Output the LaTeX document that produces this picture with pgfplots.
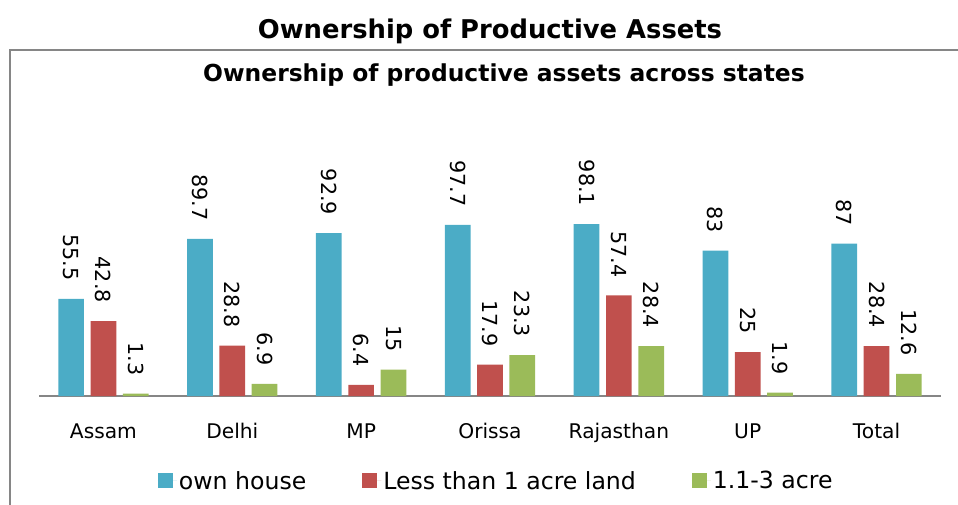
\documentclass[border=0pt]{standalone}
\usepackage{fontspec}
\setmainfont{DejaVu Sans}
\usepackage{pgfplots}
\pgfplotsset{compat=1.18}
\definecolor{cblue}{HTML}{4BACC6}
\definecolor{cred}{HTML}{C0504D}
\definecolor{cgreen}{HTML}{9BBB59}
\definecolor{axgray}{HTML}{868686}
\begin{document}
\begin{tikzpicture}[x=1pt,y=1pt]
\path[use as bounding box] (0,0) rectangle (958,504);
\draw[axgray, line width=2pt] (10,-20) -- (10,454) -- (980,454);
\node[anchor=base, font=\fontsize{25.8}{30}\selectfont\bfseries] at (490,465) {Ownership of Productive Assets};
\node[anchor=base, font=\fontsize{23.4}{28}\selectfont\bfseries] at (504,422) {Ownership of productive assets across states};
\begin{axis}[
  at={(39pt,108pt)}, anchor=south west,
  scale only axis, width=902pt, height=175.2pt,
  xmin=-0.5, xmax=6.5, ymin=0, ymax=100,
  axis x line=bottom, axis y line=none,
  x axis line style={-, draw=axgray, line width=1.5pt},
  xtick={0,1,2,3,4,5,6},
  xticklabels={Assam,Delhi,MP,Orissa,Rajasthan,UP,Total},
  major tick length=0pt,
  xticklabel style={font=\fontsize{20.2}{24}\selectfont, anchor=base, yshift=-42pt},
  ybar=6.6pt, bar width=25.7pt,
  clip=false,
  /pgf/number format/assume math mode=true,
  nodes near coords,
  nodes near coords style={font=\fontsize{20.7}{24}\selectfont, yshift=18pt, rotate=-90, anchor=east, inner xsep=0pt, text=black},
  legend columns=3,
  legend style={draw=none, at={(0.507,-0.485)}, anchor=center,
     font=\fontsize{23.6}{28}\selectfont,
     /tikz/every even column/.append style={column sep=54pt}},
  legend image code/.code={\fill[#1] (0pt,-7.5pt) rectangle (15pt,7.5pt); \path (0pt,0pt) -- (19pt,0pt);},
]
\addplot[fill=cblue, draw=none] coordinates {(0,55.5) (1,89.7) (2,92.9) (3,97.7) (4,98.1) (5,83) (6,87)};
\addplot[fill=cred, draw=none] coordinates {(0,42.8) (1,28.8) (2,6.4) (3,17.9) (4,57.4) (5,25) (6,28.4)};
\addplot[fill=cgreen, draw=none] coordinates {(0,1.3) (1,6.9) (2,15) (3,23.3) (4,28.4) (5,1.9) (6,12.6)};
\legend{own house, Less than 1 acre land, 1.1-3 acre}
\end{axis}
\end{tikzpicture}
\end{document}
